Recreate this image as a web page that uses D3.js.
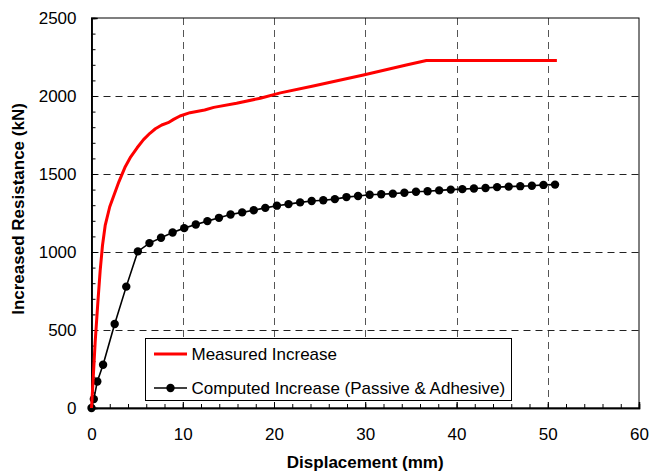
<!DOCTYPE html>
<html>
<head>
<meta charset="utf-8">
<script src="https://cdn.jsdelivr.net/npm/d3@7"></script>
<style>
  body { margin: 0; background: #fff; }
  svg text { font-family: "Liberation Sans", Arial, sans-serif; fill: #000; }
</style>
</head>
<body>
<svg id="chart" width="650" height="472"></svg>
<script>
// Measured increase (red line)
const measuredX = [0, 0.1, 0.4, 0.7, 0.95, 1.2, 1.5, 2.0, 2.5, 3.0, 3.7, 4.3, 5.0, 5.7, 6.4, 7.0, 7.7, 8.4, 9.0, 9.7, 10.8, 12.4, 13.4, 15.9, 18.5, 20.7, 24.3, 29.8, 34.5, 36.7, 51];
const measuredY = [0, 100, 420, 680, 880, 1040, 1170, 1290, 1370, 1450, 1547, 1610, 1668, 1720, 1761, 1790, 1814, 1829, 1850, 1872, 1893, 1910, 1927, 1953, 1986, 2020, 2064, 2135, 2199, 2227, 2227];

// Computed increase (passive & adhesive), black line with markers
const computedX = [0, 0.254, 0.635, 1.27, 2.54, 3.81, 5.08, 6.35, 7.62, 8.89, 10.16, 11.43, 12.7, 13.97, 15.24, 16.51, 17.78, 19.05, 20.32, 21.59, 22.86, 24.13, 25.4, 26.67, 27.94, 29.21, 30.48, 31.75, 33.02, 34.29, 35.56, 36.83, 38.1, 39.37, 40.64, 41.91, 43.18, 44.45, 45.72, 46.99, 48.26, 49.53, 50.8];
const computedY = [0, 57, 170, 277, 538, 778, 1004, 1057, 1091, 1125, 1153, 1176, 1198, 1219, 1240, 1254, 1268, 1283, 1297, 1307, 1318, 1327, 1332, 1339, 1352, 1359, 1367, 1370, 1374, 1380, 1386, 1389, 1395, 1400, 1403, 1407, 1410, 1416, 1419, 1422, 1425, 1430, 1432];

const xTicks = [0, 10, 20, 30, 40, 50, 60];
const yTicks = [0, 500, 1000, 1500, 2000, 2500];
const legendLabels = ["Measured Increase", "Computed Increase (Passive & Adhesive)"];

const svg = d3.select("#chart");
const margin = { top: 18, right: 11, bottom: 64, left: 91.5 };
const W = 650, H = 472;

const x = d3.scaleLinear().domain([0, 60]).range([margin.left, W - margin.right]);
const y = d3.scaleLinear().domain([0, 2500]).range([H - margin.bottom, margin.top]);

// gridlines
svg.append("g")
    .selectAll("line")
    .data(xTicks.slice(1, -1))
    .enter().append("line")
    .attr("x1", d => Math.round(x(d)) + 0.5).attr("x2", d => Math.round(x(d)) + 0.5)
    .attr("y1", y(2500)).attr("y2", y(0))
    .attr("stroke", "#555").attr("stroke-dasharray", "7,5");

svg.append("g")
    .selectAll("line")
    .data(yTicks.slice(1, -1))
    .enter().append("line")
    .attr("x1", x(0)).attr("x2", x(60))
    .attr("y1", d => Math.round(y(d)) + 0.5).attr("y2", d => Math.round(y(d)) + 0.5)
    .attr("stroke", "#222").attr("stroke-dasharray", "7,5");

// frame
svg.append("rect")
    .attr("x", x(0)).attr("y", y(2500))
    .attr("width", x(60) - x(0)).attr("height", y(0) - y(2500))
    .attr("fill", "none").attr("stroke", "#000").attr("stroke-width", 1);

// axes, ticks pointing inward
const xAxis = d3.axisBottom(x).tickValues(xTicks).tickSize(-6).tickPadding(20).tickFormat(d3.format("d"));
const yAxis = d3.axisLeft(y).tickValues(yTicks).tickSize(-6).tickPadding(15).tickFormat(d3.format("d"));

const gx = svg.append("g").attr("transform", `translate(0,${y(0)})`).call(xAxis);
const gy = svg.append("g").attr("transform", `translate(${x(0)},0)`).call(yAxis);

// minor ticks
svg.append("g").attr("transform", `translate(0,${y(0)})`)
    .call(d3.axisBottom(x).tickValues(d3.range(0, 61, 2)).tickSize(-4).tickFormat(""));
svg.append("g").attr("transform", `translate(${x(0)},0)`)
    .call(d3.axisLeft(y).tickValues(d3.range(0, 2501, 100)).tickSize(-4).tickFormat(""));

svg.selectAll(".domain").attr("stroke", "#000").attr("stroke-width", 1.5);
svg.selectAll(".tick line").attr("stroke", "#000");
[gx, gy].forEach(g => g.selectAll("text").style("font-size", "17px").attr("fill", "#000"));
gx.selectAll("text").attr("dy", "0.71em");

// series
const measured = measuredX.map((d, i) => [d, measuredY[i]]);
const computed = computedX.map((d, i) => [d, computedY[i]]);
const line = d3.line().x(d => x(d[0])).y(d => y(d[1]));

svg.append("path").datum(computed)
    .attr("d", line).attr("fill", "none").attr("stroke", "#000").attr("stroke-width", 1.6);
svg.append("g").selectAll("circle")
    .data(computed).enter().append("circle")
    .attr("cx", d => x(d[0])).attr("cy", d => y(d[1])).attr("r", 4.2).attr("fill", "#000");

svg.append("path").datum(measured)
    .attr("d", line).attr("fill", "none").attr("stroke", "#ff0000").attr("stroke-width", 3)
    .attr("stroke-linejoin", "round");

// legend
const lg = svg.append("g");
lg.append("rect").attr("x", 145.5).attr("y", 338.5).attr("width", 366).attr("height", 62)
    .attr("fill", "#fff").attr("stroke", "#000").attr("stroke-width", 1);
lg.append("line").attr("x1", 154).attr("x2", 187).attr("y1", 354).attr("y2", 354)
    .attr("stroke", "#ff0000").attr("stroke-width", 3);
lg.append("line").attr("x1", 154).attr("x2", 187).attr("y1", 388).attr("y2", 388)
    .attr("stroke", "#000").attr("stroke-width", 1.6);
lg.append("circle").attr("cx", 170.5).attr("cy", 388).attr("r", 4.2).attr("fill", "#000");
lg.selectAll("text").data(legendLabels).enter().append("text")
    .attr("x", 191.5).attr("y", (d, i) => 354 + i * 34).attr("dy", "0.35em")
    .style("font-size", "17px").text(d => d);

// axis titles
svg.append("text")
    .attr("x", (x(0) + x(60)) / 2).attr("y", 468)
    .attr("text-anchor", "middle").style("font-size", "17px").style("font-weight", "bold")
    .text("Displacement (mm)");
svg.append("text")
    .attr("transform", `translate(24,${(y(0) + y(2500)) / 2 - 4}) rotate(-90)`)
    .attr("text-anchor", "middle").style("font-size", "17px").style("font-weight", "bold")
    .text("Increased Resistance (kN)");
</script>
</body>
</html>
